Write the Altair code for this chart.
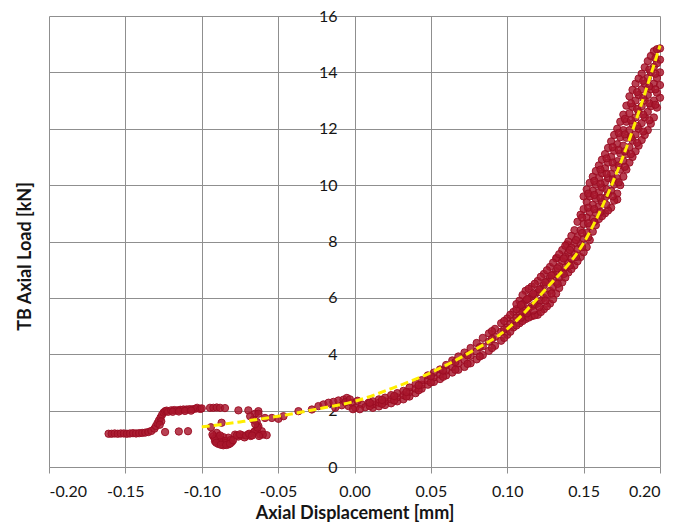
import altair as alt
import pandas as pd

# ---- data ----
# left tail (low band, rise, upper band) in the negative displacement region
tail_x = [-0.161, -0.159, -0.157, -0.155, -0.153, -0.151, -0.149, -0.147, -0.145, -0.143,
          -0.141, -0.139, -0.137, -0.135, -0.133, -0.131, -0.130, -0.129, -0.128, -0.127,
          -0.126, -0.1265, -0.1275, -0.125, -0.124, -0.123, -0.122, -0.120, -0.118, -0.116,
          -0.114, -0.112, -0.110, -0.108, -0.106, -0.104, -0.103, -0.101, -0.100, -0.119,
          -0.115, -0.111, -0.107, -0.0946, -0.0924, -0.0902, -0.0880, -0.0848, -0.076, -0.0695,
          -0.0629, -0.0651, -0.124, -0.115, -0.109]
tail_y = [1.18, 1.18, 1.19, 1.18, 1.19, 1.19, 1.18, 1.19, 1.20, 1.19,
          1.20, 1.21, 1.22, 1.24, 1.28, 1.36, 1.45, 1.55, 1.65, 1.75,
          1.85, 1.62, 1.50, 1.93, 1.98, 2.00, 1.96, 2.01, 2.02, 2.01,
          2.03, 2.04, 2.04, 2.05, 2.05, 2.07, 2.10, 2.06, 2.08, 1.96,
          1.97, 1.99, 2.00, 2.10, 2.10, 2.11, 2.10, 2.09, 2.01, 2.01,
          1.98, 1.89, 1.24, 1.26, 1.27]

# hook-shaped cluster and scattered points between -0.095 and -0.045
hook_x = [-0.0924, -0.0913, -0.0891, -0.0859, -0.0826, -0.0803, -0.0826, -0.0859, -0.0891, -0.0902,
          -0.0782, -0.0738, -0.0695, -0.0662, -0.0640, -0.0629, -0.0640, -0.0662, -0.0618, -0.0575,
          -0.0607, -0.0940, -0.0870, -0.0683, -0.0629, -0.0586, -0.0541, -0.0498, -0.0465, -0.0870,
          -0.0845, -0.0810, -0.0760, -0.0720, -0.0680, -0.0900, -0.0880, -0.0845,
          -0.0915, -0.0905, -0.0875, -0.0840, -0.0815, -0.0795, -0.0770, -0.0750, -0.0710, -0.0690,
          -0.0655, -0.0635, -0.0650, -0.0600, -0.0625, -0.0670, -0.0930, -0.0880]
hook_y = [1.09, 0.91, 0.82, 0.77, 0.80, 0.89, 1.04, 1.06, 1.09, 1.21,
          1.15, 1.13, 1.15, 1.21, 1.33, 1.45, 1.60, 1.68, 1.15, 1.13,
          1.27, 1.41, 1.57, 1.80, 1.89, 1.74, 1.74, 1.71, 1.80, 0.95,
          0.92, 0.96, 1.08, 1.05, 1.10, 1.00, 0.88, 0.85,
          1.00, 0.86, 0.79, 0.78, 0.83, 0.95, 1.12, 1.16, 1.12, 1.18,
          1.26, 1.40, 1.52, 1.15, 1.10, 1.12, 1.15, 1.12]

# points close to zero displacement
near_x = [-0.0367, -0.0279, -0.0236, -0.0203, -0.0170, -0.0138, -0.0105, -0.0072, -0.0050, -0.0083,
          -0.0039, -0.0017, -0.0126, 0.0005, 0.0048, 0.0092, -0.0060, -0.0030, 0.0020, 0.0070,
          -0.0010, 0.0035]
near_y = [1.98, 2.04, 2.16, 2.22, 2.28, 2.31, 2.36, 2.39, 2.45, 2.19,
          2.16, 2.28, 2.10, 2.10, 2.22, 2.28, 2.30, 2.40, 2.35, 2.12,
          2.05, 2.05]

# main band: displacement columns and the loads read at each column
main_x = [0.012, 0.016, 0.020, 0.024, 0.028, 0.032, 0.036, 0.040, 0.044, 0.048,
          0.052, 0.056, 0.060, 0.064, 0.068, 0.072, 0.076, 0.080, 0.084, 0.088,
          0.092, 0.096, 0.100, 0.104, 0.108, 0.112, 0.116, 0.120, 0.124, 0.128,
          0.132, 0.136, 0.140, 0.144, 0.148, 0.152, 0.156, 0.160, 0.164, 0.168,
          0.172, 0.176, 0.180, 0.184, 0.188, 0.192, 0.196, 0.200]
main_y = [[2.10, 2.22, 2.33], [2.15, 2.28, 2.40], [2.20, 2.33, 2.46], [2.26, 2.40, 2.55],
          [2.33, 2.47, 2.62], [2.40, 2.55, 2.70], [2.50, 2.66, 2.82], [2.62, 2.78, 2.95],
          [2.78, 2.92, 3.08], [2.92, 3.07, 3.25], [3.02, 3.18, 3.35], [3.12, 3.28, 3.46],
          [3.25, 3.42, 3.62], [3.35, 3.55, 3.78], [3.45, 3.68, 3.92], [3.55, 3.80, 4.06],
          [3.68, 3.95, 4.22], [3.82, 4.10, 4.40], [3.97, 4.28, 4.58], [4.12, 4.45, 4.74],
          [4.30, 4.62, 4.90], [4.48, 4.80, 5.10], [4.69, 4.95, 5.27], [4.95, 5.20, 5.50],
          [5.10, 5.40, 5.65, 5.90], [5.25, 5.55, 5.90, 6.25], [5.35, 5.70, 6.05, 6.40],
          [5.40, 5.80, 6.20, 6.60], [5.60, 6.00, 6.45, 6.85], [5.80, 6.25, 6.70, 7.10],
          [6.15, 6.55, 6.95, 7.40], [6.55, 6.90, 7.30, 7.70], [6.90, 7.25, 7.60, 8.00],
          [7.15, 7.55, 7.95, 8.40], [7.45, 7.90, 8.40, 8.95],
          [7.80, 8.30, 8.85, 9.40, 9.85], [8.35, 8.80, 9.30, 9.80, 10.30],
          [8.80, 9.25, 9.75, 10.25, 10.70], [9.00, 9.55, 10.10, 10.60, 11.10],
          [9.20, 9.80, 10.40, 11.00, 11.55], [9.70, 10.25, 10.85, 11.45, 12.00],
          [10.30, 10.85, 11.40, 11.95, 12.50], [10.80, 11.35, 11.95, 12.55, 13.15],
          [11.20, 11.80, 12.40, 13.00, 13.60], [11.60, 12.20, 12.80, 13.40, 13.95],
          [11.95, 12.60, 13.20, 13.80, 14.40], [12.40, 13.00, 13.60, 14.20, 14.75],
          [13.10, 13.55, 14.00, 14.45, 14.85]]

# second set of columns read between the first ones
mid_x = [0.010, 0.018, 0.026, 0.034, 0.042, 0.050, 0.058, 0.066, 0.074, 0.082,
         0.090, 0.098, 0.102, 0.106, 0.110, 0.114, 0.118, 0.122, 0.126, 0.130,
         0.134, 0.138, 0.142, 0.146, 0.150, 0.154, 0.158, 0.162, 0.166, 0.170,
         0.174, 0.178, 0.182, 0.186, 0.190, 0.194, 0.198]
mid_y = [[2.16, 2.28], [2.24, 2.38], [2.36, 2.52], [2.50, 2.66], [2.72, 2.90],
         [3.00, 3.22], [3.20, 3.42], [3.45, 3.72], [3.66, 3.96], [3.92, 4.25],
         [4.22, 4.55, 4.82], [4.58, 4.88, 5.18], [4.80, 5.08, 5.40], [5.02, 5.30, 5.60, 5.78],
         [5.18, 5.48, 5.78, 6.10], [5.30, 5.62, 5.98, 6.32], [5.38, 5.75, 6.12, 6.50],
         [5.50, 5.90, 6.32, 6.75], [5.70, 6.12, 6.58, 6.98], [5.95, 6.40, 6.82, 7.25],
         [6.35, 6.72, 7.12, 7.55], [6.72, 7.08, 7.45, 7.85], [7.02, 7.40, 7.78, 8.20],
         [7.30, 7.72, 8.15, 8.70], [7.62, 8.10, 8.62, 9.15, 9.60],
         [8.05, 8.55, 9.05, 9.60, 10.08], [8.58, 9.02, 9.52, 10.02, 10.50],
         [8.90, 9.40, 9.92, 10.42, 10.90], [9.10, 9.68, 10.25, 10.80, 11.32],
         [9.45, 10.02, 10.62, 11.22, 11.78], [10.00, 10.55, 11.12, 11.70, 12.25],
         [10.55, 11.10, 11.68, 12.25, 12.82], [11.00, 11.58, 12.18, 12.78, 13.38],
         [11.40, 12.00, 12.60, 13.20, 13.78], [11.78, 12.40, 13.00, 13.60, 14.18],
         [12.18, 12.80, 13.40, 14.00, 14.58], [12.75, 13.28, 13.80, 14.32, 14.82]]

# third set of columns in the thick upper part of the band
fill_x = [0.109, 0.113, 0.117, 0.121, 0.125, 0.129, 0.133, 0.137, 0.141, 0.145,
          0.149, 0.153, 0.157, 0.161, 0.165, 0.169, 0.173, 0.177, 0.181, 0.185,
          0.189, 0.193, 0.197]
fill_y = [[5.30, 5.75], [5.45, 5.95], [5.55, 6.15], [5.68, 6.30], [5.90, 6.55],
          [6.15, 6.80], [6.50, 7.05], [6.85, 7.40], [7.15, 7.70], [7.45, 8.05],
          [7.80, 8.30, 8.85], [8.15, 8.65, 9.20, 9.70], [8.70, 9.15, 9.65, 10.15],
          [9.05, 9.55, 10.05, 10.55], [9.30, 9.85, 10.40, 10.95], [9.60, 10.20, 10.80, 11.35],
          [10.10, 10.70, 11.25, 11.85], [10.65, 11.20, 11.80, 12.35], [11.10, 11.70, 12.30, 12.90],
          [11.50, 12.10, 12.70, 13.30], [11.90, 12.50, 13.10, 13.70], [12.30, 12.90, 13.50, 14.10],
          [12.85, 13.40, 13.95, 14.50]]

# a few stray points
extra_x = [0.172, 0.1325, 0.139]
extra_y = [9.49, 7.42, 7.90]

# dashed yellow trend line
trend_x = [-0.10, -0.075, -0.05, -0.025, 0.0, 0.025, 0.05, 0.075, 0.10, 0.125, 0.15, 0.175, 0.20]
trend_y = [1.42, 1.60, 1.80, 2.05, 2.33, 2.80, 3.35, 4.05, 4.90, 6.30, 7.95, 10.90, 14.95]

x_ticks = [-0.20, -0.15, -0.10, -0.05, 0.0, 0.05, 0.10, 0.15, 0.20]
y_ticks = [0, 2, 4, 6, 8, 10, 12, 14, 16]

# ---- build tables ----
rows = []
for xs_, ys_ in [(tail_x, tail_y), (hook_x, hook_y), (near_x, near_y), (extra_x, extra_y)]:
    for a, b in zip(xs_, ys_):
        rows.append({"x": a, "y": b})
for cx, cy in [(main_x, main_y), (mid_x, mid_y), (fill_x, fill_y)]:
    for a, col in zip(cx, cy):
        for b in col:
            rows.append({"x": a, "y": b})
pts = pd.DataFrame(rows)
trend = pd.DataFrame({"x": trend_x, "y": trend_y})

FONT = "Lato"
GRID = "#8f8f8f"
TXT = "#151515"

xscale = alt.Scale(domain=[-0.2, 0.2], nice=False, zero=False)
yscale = alt.Scale(domain=[0, 16], nice=False)

x_axis = alt.Axis(
    values=x_ticks, format=".2f",
    labelExpr="replace(datum.label, '\u2212', '-')",
    title="Axial Displacement [mm]",
    grid=True, gridColor=GRID, gridWidth=1,
    domainColor=GRID, tickColor=GRID, tickSize=6,
    labelFont=FONT, labelFontSize=16, labelColor=TXT, labelPadding=10,
    titleFont=FONT, titleFontSize=18, titleFontWeight="bold", titleColor=TXT,
    titleY=37, titleBaseline="top",
)
y_axis = alt.Axis(
    values=y_ticks, title="TB Axial Load [kN]",
    grid=True, gridColor=GRID, gridWidth=1,
    domain=False, ticks=False, tickSize=0, offset=-305,
    labelFont=FONT, labelFontSize=16, labelColor=TXT, labelPadding=17,
    titleFont=FONT, titleFontSize=18, titleFontWeight="bold", titleColor=TXT,
    titleX=-329, titleY=240, titleAngle=270, titleAlign="center", titleBaseline="middle",
)

points = alt.Chart(pts).mark_circle(
    size=54, color="#A8172D", fillOpacity=0.82, stroke="#9A0C22", strokeWidth=1, strokeOpacity=0.9
).encode(
    x=alt.X("x:Q", scale=xscale, axis=x_axis),
    y=alt.Y("y:Q", scale=yscale, axis=y_axis),
)

line = alt.Chart(trend).mark_line(
    color="#FFEE00", strokeWidth=3, strokeDash=[8, 4], interpolate="monotone"
).encode(
    x=alt.X("x:Q", scale=xscale),
    y=alt.Y("y:Q", scale=yscale),
)

chart = (points + line).properties(
    width=611, height=451,
    autosize=alt.AutoSizeParams(type="none"),
    padding={"left": 49, "top": 16, "right": 31, "bottom": 58},
).configure_view(strokeWidth=0)

chart.save("out.html", embed_options={"renderer": "svg", "actions": False})
